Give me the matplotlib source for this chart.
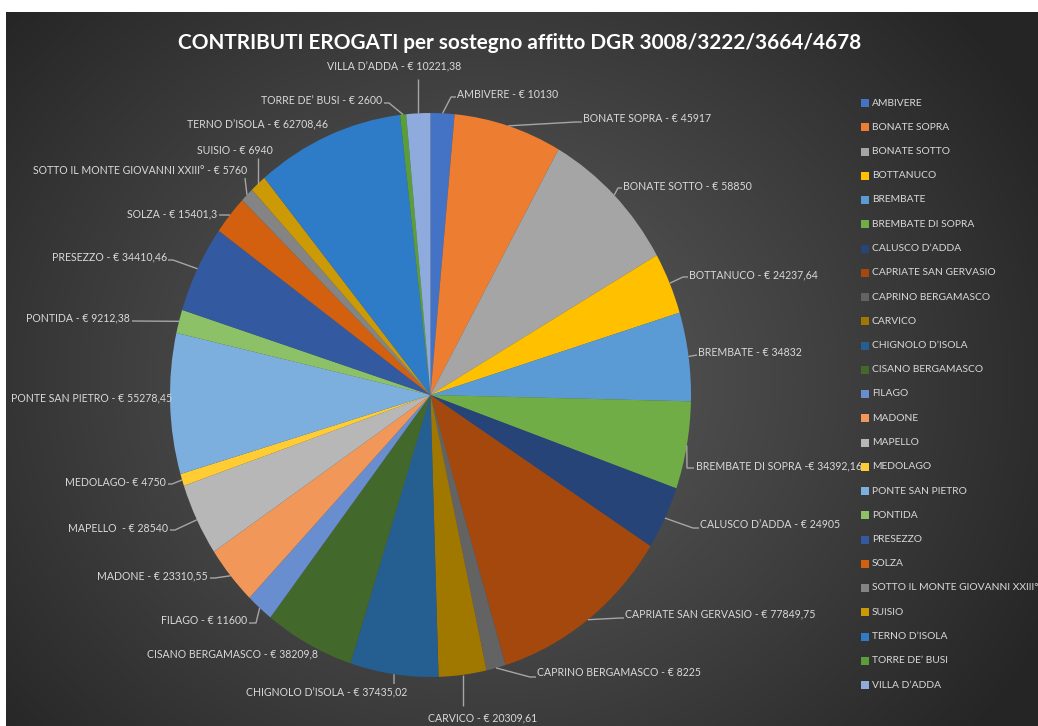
import numpy as np
import matplotlib
matplotlib.use("Agg")
import matplotlib.pyplot as plt
from matplotlib.patches import Rectangle

# ---------------- data ----------------
title = "CONTRIBUTI EROGATI per sostegno affitto DGR 3008/3222/3664/4678"

names = ["AMBIVERE", "BONATE SOPRA", "BONATE SOTTO", "BOTTANUCO", "BREMBATE",
         "BREMBATE DI SOPRA", "CALUSCO D\u2019ADDA", "CAPRIATE SAN GERVASIO",
         "CAPRINO BERGAMASCO", "CARVICO", "CHIGNOLO D\u2019ISOLA", "CISANO BERGAMASCO",
         "FILAGO", "MADONE", "MAPELLO", "MEDOLAGO", "PONTE SAN PIETRO", "PONTIDA",
         "PRESEZZO", "SOLZA", "SOTTO IL MONTE GIOVANNI XXIII\u00b0", "SUISIO",
         "TERNO D\u2019ISOLA", "TORRE DE\u2019 BUSI", "VILLA D\u2019ADDA"]

values = [10130, 45917, 58850, 24237.64, 34832,
          34392.16, 24905, 77849.75,
          8225, 20309.61, 37435.02, 38209.8,
          11600, 23310.55, 28540, 4750, 55278.45, 9212.38,
          34410.46, 15401.3, 5760, 6940,
          62708.46, 2600, 10221.38]

colors = ["#4472C4", "#ED7D31", "#A5A5A5", "#FFC000", "#5B9BD5",
          "#70AD47", "#264478", "#A4480E", "#636363", "#A07800",
          "#255E91", "#43682B", "#698ED0", "#F1975A", "#B7B7B7",
          "#FFCD33", "#7CAFDD", "#8CC168", "#335AA1", "#D2600F",
          "#848484", "#CC9A06", "#2E7BC8", "#5A9E3A", "#8FAADC"]

# separators as written in the original labels
seps = {"BREMBATE DI SOPRA": " -\u20ac ", "MEDOLAGO": "- \u20ac ", "MAPELLO": "  - \u20ac "}


def fmt(v):
    s = f"{v:.2f}".rstrip("0").rstrip(".")
    return s.replace(".", ",")


labels = [f"{n}{seps.get(n, ' - € ')}{fmt(v)}" for n, v in zip(names, values)]

# ---------------- layout (pixels, y down) ----------------
W, H = 1038, 726
# text anchor x, y, ha, leader points after the slice edge point
label_layout = [
    (457, 94, "left", [(451, 97), (456, 97)]),
    (583, 119, "left", [(576, 122), (582, 122)]),
    (623, 186, "left", [(618, 188), (622, 188)]),
    (689, 275, "left", [(683, 277), (688, 277)]),
    (698, 353, "left", [(697, 355)]),
    (696, 466, "left", [(687, 468), (694, 468)]),
    (700, 525, "left", [(693, 528), (699, 528)]),
    (625, 614, "left", [(620, 618), (624, 618)]),
    (537, 673, "left", [(530, 677), (536, 677)]),
    (428, 718, "left", [(463, 706)]),
    (407, 693, "right", [(394, 684)]),
    (318, 654, "right", []),
    (247, 621, "right", [(256, 623), (249, 623)]),
    (208, 576, "right", [(215, 578), (210, 578)]),
    (168, 528, "right", [(175, 530), (170, 530)]),
    (166, 482, "right", [(172, 484), (168, 484)]),
    (172, 398, "right", []),
    (130, 318, "right", [(132, 321)]),
    (167, 257, "right", [(173, 260), (168, 260)]),
    (217, 214, "right", [(219, 215)]),
    (247, 171, "right", [(245, 178)]),
    (197, 151, "left", [(258, 158)]),
    (328, 125, "right", []),
    (382, 100, "right", [(389, 103), (384, 103)]),
    (394, 67, "center", [(418, 79)]),
]

FONT = ["Lato", "DejaVu Sans"]
TXT = "#d9d9d9"

fig = plt.figure(figsize=(W / 100, H / 100), dpi=100, facecolor="white")
renderer = fig.canvas.get_renderer()

# background radial gradient (chart area)
bg = fig.add_axes([6 / W, 0, (W - 6) / W, (H - 12) / H], zorder=0)
yy, xx = np.mgrid[12:H:2, 6:W:2]
d = np.clip(np.hypot((xx - 480) / 640, (yy - 380) / 560), 0, 1) ** 1.1
inner = np.array([0x5c, 0x5c, 0x5c]) / 255
outer = np.array([0x25, 0x25, 0x25]) / 255
img = inner[None, None, :] * (1 - d[..., None]) + outer[None, None, :] * d[..., None]
bg.imshow(img, extent=(6, W, H, 12), aspect="auto", interpolation="bilinear")
bg.set_xlim(6, W)
bg.set_ylim(H, 12)
bg.set_axis_off()

# pie (slightly elliptical as in the reference)
cx, cy, rx, ry = 430.5, 395, 260.5, 282
pax = fig.add_axes([(cx - rx) / W, (H - (cy + ry)) / H, 2 * rx / W, 2 * ry / H], zorder=1)
wedges, _ = pax.pie(values, colors=colors, startangle=90, counterclock=False,
                    radius=1, wedgeprops=dict(linewidth=0))
pax.set_xlim(-1, 1)
pax.set_ylim(-1, 1)
pax.set_aspect("auto")
pax.axis("off")

# overlay in pixel coords
ov = fig.add_axes([0, 0, 1, 1], zorder=2)
ov.set_xlim(0, W)
ov.set_ylim(H, 0)
ov.axis("off")
ov.patch.set_alpha(0)


def fit_size(text, target, weight="normal"):
    t = ov.text(0, 0, text, fontsize=10, family=FONT, weight=weight)
    w = t.get_window_extent(renderer).width
    t.remove()
    return 10 * target / w


# title
tsize = fit_size(title, 684, "bold")
ov.text(520, 43, title, ha="center", va="center", color="white",
        fontsize=tsize, family=FONT, weight="bold")

# labels + leader lines
lsize = fit_size(labels[7], 189)
to_ov = ov.transData.inverted()
for w, lab, (tx, ty, ha, pts) in zip(wedges, labels, label_layout):
    t = np.deg2rad((w.theta1 + w.theta2) / 2)
    ex, ey = to_ov.transform(pax.transData.transform((np.cos(t), np.sin(t))))
    if pts:
        xs = [ex] + [p[0] for p in pts]
        ys = [ey] + [p[1] for p in pts]
        if len(pts) == 1 and abs(pts[0][0] - ex) < 3 and ha in ("center", "left") and abs(pts[0][1]-ey) > 5:
            xs = [ex, ex]
        ov.plot(xs, ys, color="#a6a6a6", lw=1, solid_capstyle="butt")
    ov.text(tx, ty, lab, ha=ha, va="center", color=TXT, fontsize=lsize, family=FONT)

# legend
gsize = fit_size(names[20], 165)
for i, (n, c) in enumerate(zip(names, colors)):
    y = 103 + 24.25 * i
    ov.add_patch(Rectangle((861, y - 4), 8, 8, facecolor=c, edgecolor="none"))
    ov.text(872, y, n, ha="left", va="center", color=TXT, fontsize=gsize, family=FONT)

fig.savefig("out.png", dpi=100, facecolor="white")
